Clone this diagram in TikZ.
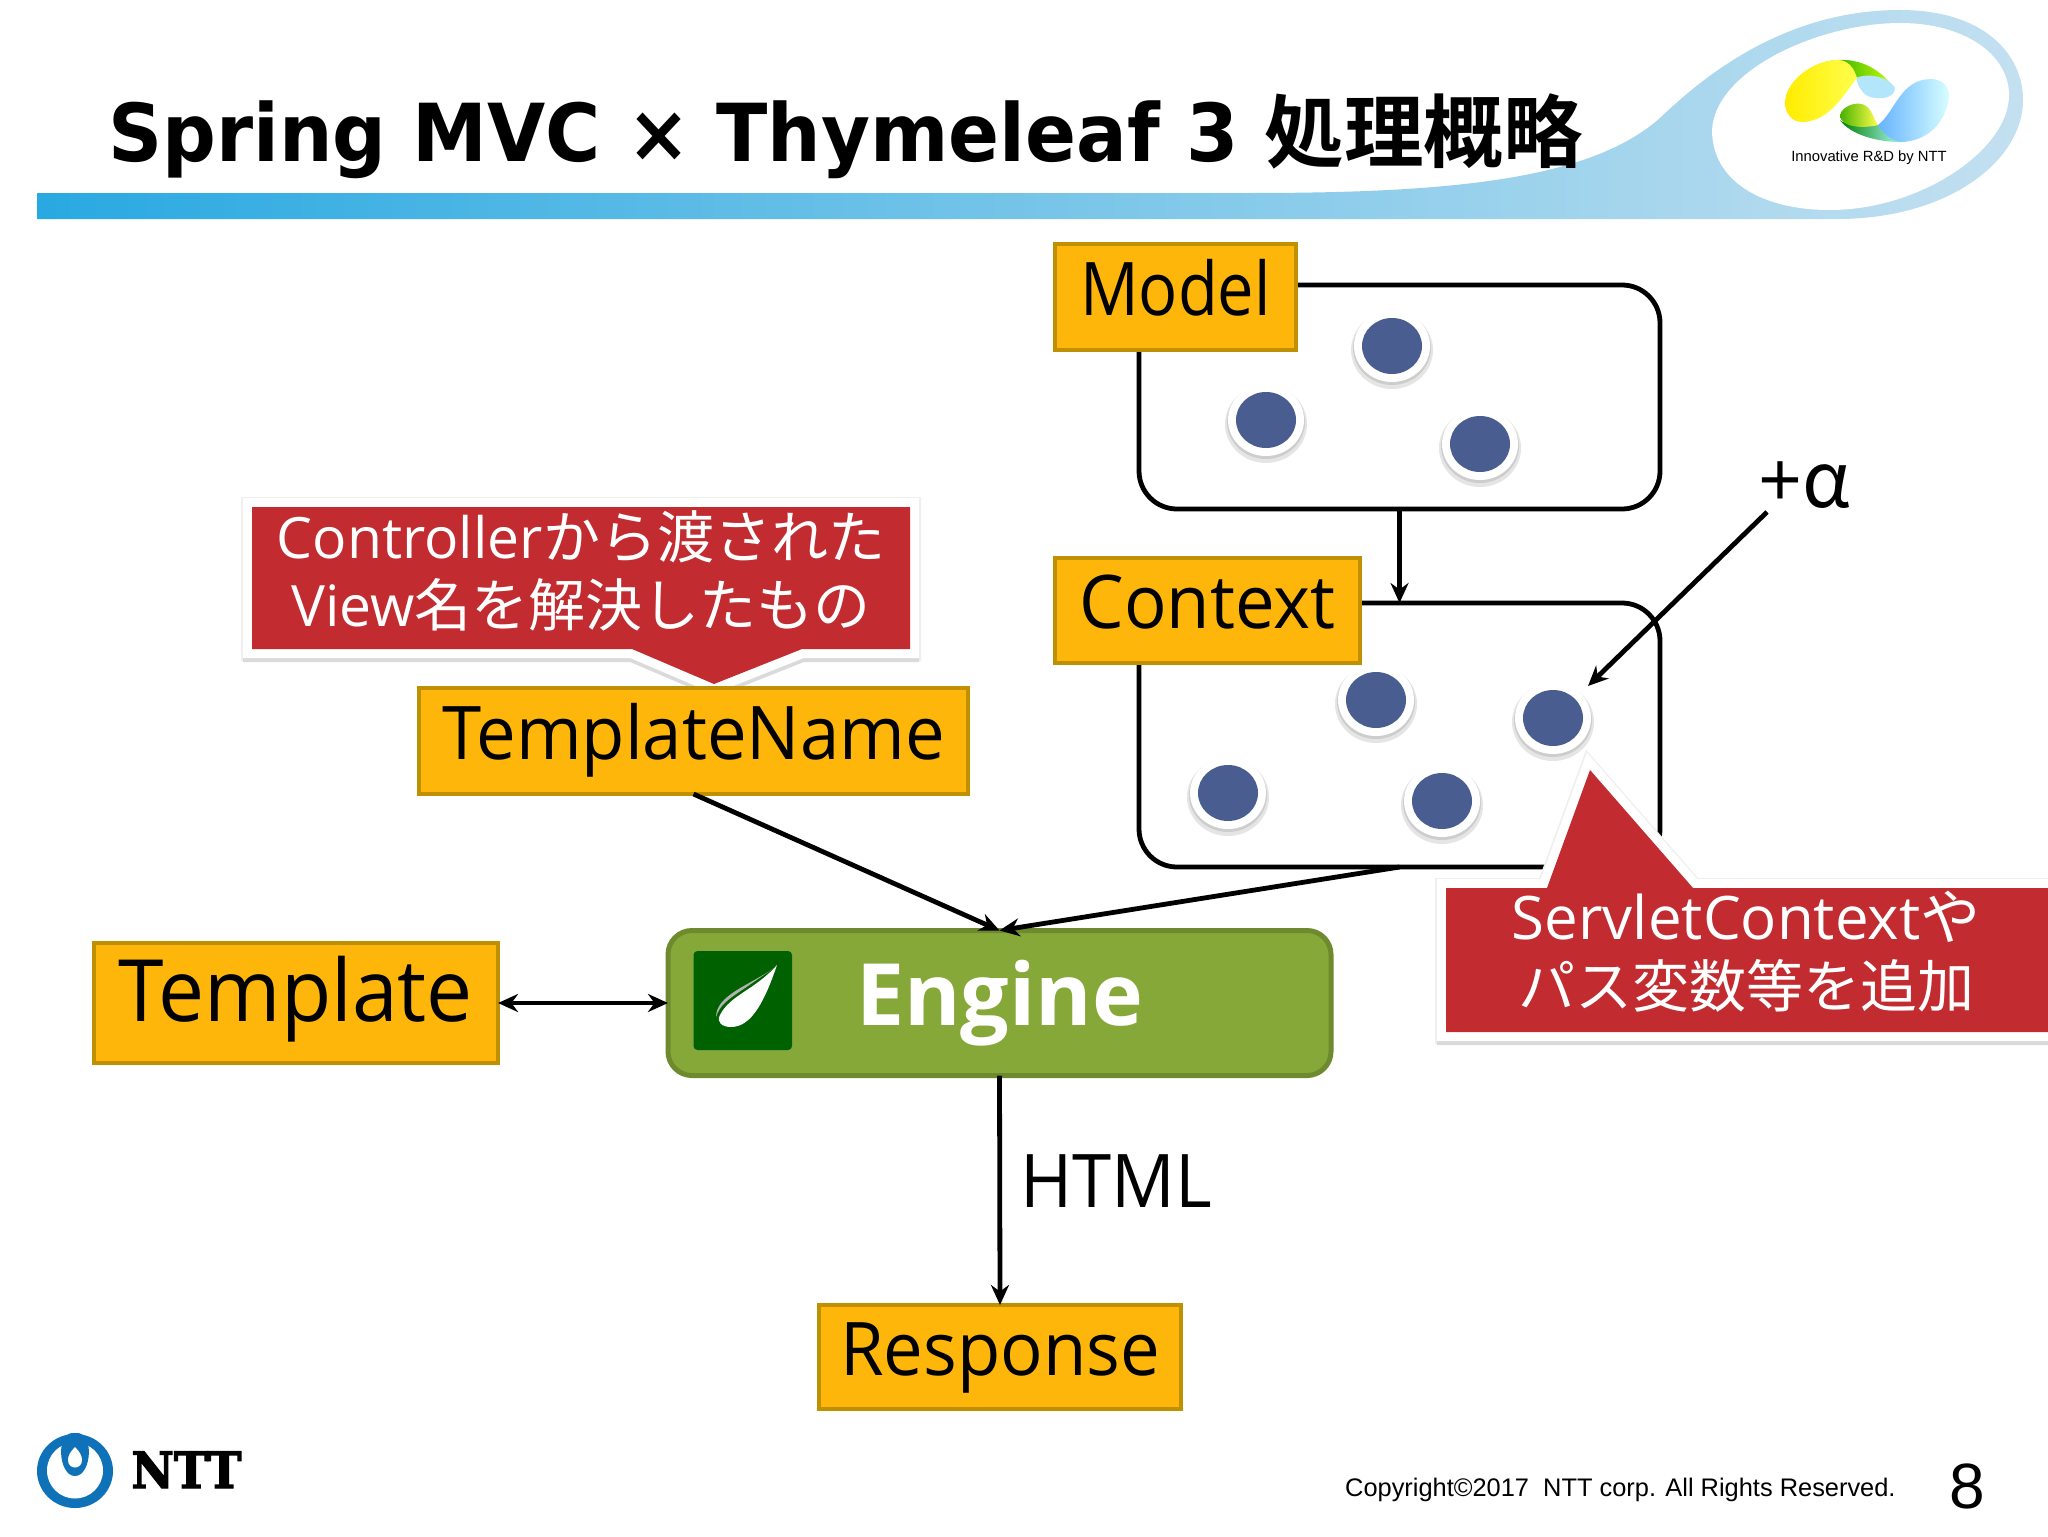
\documentclass[tikz,border=0pt]{standalone}
\usepackage{fontspec}
\usetikzlibrary{arrows.meta}
\setmainfont[FakeStretch=.955]{Open Sans}
\newfontfamily\widefont{Open Sans}
\newfontfamily\jpfont{Noto Sans CJK JP}
\newfontfamily\jpbold{Noto Sans CJK JP Bold}
\newfontfamily\titlefont[FakeStretch=.94]{DejaVu Sans Bold}
\newfontfamily\arialfont{Liberation Sans}
\newfontfamily\slabfont[FakeBold=2.5,FakeStretch=.93]{DejaVu Serif Bold}
\newcommand\jp[1]{{\jpfont #1}}
\definecolor{boxfill}{HTML}{FFB60A}
\definecolor{boxline}{HTML}{BF9000}
\definecolor{redfill}{HTML}{C22B2F}
\definecolor{dotblue}{HTML}{4A5D91}
\definecolor{enginefill}{HTML}{86A838}
\definecolor{engineline}{HTML}{6E8A2E}
\definecolor{bandleft}{HTML}{29A9E1}
\definecolor{bandmid}{HTML}{78BCE6}
\definecolor{bandright}{HTML}{C3E0F0}
\definecolor{nttblue}{HTML}{0F72B8}
\definecolor{softshadow}{HTML}{DADADA}
\definecolor{softhalo}{HTML}{EFEFEF}
\tikzset{
  x=0.5pt,y=-0.5pt,
  orangebox/.style={draw=boxline,fill=boxfill,line width=2pt,rectangle,inner sep=0pt,outer sep=0pt,
    font=\fontsize{37}{40}\selectfont,text height=24pt,text depth=5.7pt},
  framebox/.style={draw=black,line width=2.4pt,rectangle,rounded corners=19pt,inner sep=0pt,outer sep=0pt},
  link/.style={draw=black,line width=2.4pt,-{Stealth[length=10pt,width=9pt]}},
  bothlink/.style={draw=black,line width=2.4pt,{Stealth[length=10pt,width=9pt]}-{Stealth[length=10pt,width=9pt]}},
  redtext/.style={text=white,font=\widefont\fontsize{28.5}{34}\selectfont,align=center,inner sep=0pt},
  plaintext/.style={inner sep=0pt,text=black},
  halolayer/.style={draw=softhalo,fill=softhalo,line width=11pt,line join=miter},
  shadowlayer/.style={draw=softshadow,fill=softshadow,line width=9pt,line join=miter},
  whiteedge/.style={preaction={draw=white,line width=9pt,line join=miter},fill=redfill},
}
\newcommand\dotat[2]{%
  \fill[black,opacity=.10] (#1,#2+4) ellipse [x radius=20.5pt,y radius=19.5pt];
  \fill[black,opacity=.10] (#1,#2+2) ellipse [x radius=19.5pt,y radius=18.5pt];
  \fill[white] (#1,#2) ellipse [x radius=19pt,y radius=18pt];
  \fill[dotblue] (#1,#2) ellipse [x radius=15pt,y radius=14pt];
}
\begin{document}
\begin{tikzpicture}
\useasboundingbox (0,0) rectangle (2048,1536);
\fill[white] (0,0) rectangle (2048,1536);

% header band
\shade[left color=bandleft,middle color=bandmid,right color=bandright]
  (37,193) -- (1250,193) .. controls (1450,193) and (1590,180) .. (1660,118)
  .. controls (1710,70) and (1790,10) .. (1900,10)
  .. controls (1985,10) and (2023,55) .. (2023,100)
  .. controls (2023,160) and (1950,218) .. (1840,219) -- (37,219) -- cycle;
\fill[white] (1712,130) .. controls (1715,70) and (1820,23) .. (1900,23)
  .. controls (1965,23) and (2009,55) .. (2009,95)
  .. controls (2009,150) and (1920,210) .. (1830,210)
  .. controls (1760,210) and (1712,180) .. (1712,130) -- cycle;
\node[plaintext,anchor=base west,font=\titlefont\fontsize{40}{44}\selectfont] (title) at (108,161)
  {Spring MVC × Thymeleaf 3 {\jpbold\fontsize{39.8}{44}\selectfont 処理概略}};

% logo
\shade[left color=green!60!black,right color=yellow!80!green]
  (1815,66) .. controls (1835,56) and (1870,55) .. (1894,88)
  .. controls (1885,80) and (1870,74) .. (1856,78) .. controls (1850,70) and (1835,64) .. (1815,66) -- cycle;
\fill[cyan!30!white] (1856,78) .. controls (1870,72) and (1890,78) .. (1895,88)
  .. controls (1895,98) and (1880,100) .. (1870,97) .. controls (1862,94) and (1858,86) .. (1856,78) -- cycle;
\shade[left color=yellow!85!orange,right color=yellow!70!white]
  (1785,103) .. controls (1785,82) and (1812,60) .. (1838,60)
  .. controls (1848,60) and (1854,68) .. (1857,78)
  .. controls (1845,92) and (1830,122) .. (1802,122)
  .. controls (1792,122) and (1785,113) .. (1785,103) -- cycle;
\shade[left color=green!50!black,right color=cyan!30!white]
  (1840,120) .. controls (1850,135) and (1880,143) .. (1905,142)
  .. controls (1890,138) and (1885,130) .. (1878,125) .. controls (1860,127) and (1845,125) .. (1840,120) -- cycle;
\shade[left color=green!60!yellow!70!black,right color=yellow!70!white]
  (1840,115) .. controls (1842,106) and (1858,100) .. (1866,106)
  .. controls (1872,110) and (1874,120) .. (1878,125) .. controls (1862,129) and (1840,127) .. (1840,115) -- cycle;
\shade[left color=cyan!50!blue!60!white,right color=cyan!15!white]
  (1878,125) .. controls (1895,112) and (1900,80) .. (1930,79)
  .. controls (1945,79) and (1950,90) .. (1949,98)
  .. controls (1945,125) and (1925,142) .. (1900,142)
  .. controls (1890,140) and (1882,132) .. (1878,125) -- cycle;
\node[plaintext,font=\arialfont\fontsize{7.4}{8}\selectfont] (logotext) at (1869,158) {Innovative R\&D by NTT};

% frames
\node[framebox,minimum width=260.5pt,minimum height=112pt] (modelframe) at (1399.5,397) {};
\node[framebox,minimum width=260.5pt,minimum height=132pt] (contextframe) at (1399.5,735) {};

% dots
\dotat{1392}{346}\dotat{1266}{420}\dotat{1480}{444}
\dotat{1376}{700}\dotat{1553}{718}\dotat{1228}{793}\dotat{1442}{801}

% red callout 1
\path[halolayer]
  (252,508) -- (910,508) -- (910,650) -- (802,650) -- (714,685) -- (632,650) -- (252,650) -- cycle;
\path[shadowlayer]
  (252,511) -- (910,511) -- (910,653) -- (802,653) -- (714,688) -- (632,653) -- (252,653) -- cycle;
\path[whiteedge]
  (252,507) -- (910,507) -- (910,649) -- (802,649) -- (714,684) -- (632,649) -- (252,649) -- cycle;
\node[redtext] (calloutone) at (581,571) {Controller\jp{から渡された}\\View\jp{名を解決したもの}};

% orange boxes
\node[orangebox,minimum width=120.5pt,minimum height=53pt] (model) at (1175.5,297) {\scalebox{.92}[1]{Model}};
\node[orangebox,minimum width=152.5pt,minimum height=52.5pt] (context) at (1207.5,610.5) {Context};
\node[orangebox,minimum width=274.5pt,minimum height=53pt] (tname) at (693.5,741) {TemplateName};
\node[orangebox,minimum width=202pt,minimum height=60pt,font=\fontsize{43}{44}\selectfont] (template) at (296,1003) {Template};
\node[orangebox,minimum width=181pt,minimum height=52pt] (response) at (1000,1357) {Response};

% engine
\node[draw=engineline,fill=enginefill,line width=2.5pt,rectangle,rounded corners=12pt,inner sep=0pt,outer sep=0pt,
  minimum width=331.5pt,minimum height=72.5pt,text=white,font=\widefont\bfseries\fontsize{43}{44}\selectfont,
  text height=24pt,text depth=2pt] (engine) at (999.5,1003) {Engine};
\fill[rounded corners=2pt,green!38!black] (693.5,951) rectangle (792,1050);
\fill[black!30!white] (774,968) .. controls (750,985) and (716,995) .. (716,1017)
  .. controls (720,1005) and (727,1000) .. (745,988) -- cycle;
\fill[white] (777,965) .. controls (765,1000) and (752,1027) .. (731,1027)
  .. controls (722,1027) and (716,1022) .. (720,1015)
  .. controls (730,995) and (755,990) .. (777,965) -- cycle;

% connectors
\draw[link] (modelframe.south) -- (contextframe.north);
\draw[link] (tname.south) -- (engine.north);
\draw[link] (contextframe.south) -- (engine.north);
\draw[bothlink] (template.east) -- (engine.west);
\draw[link] (engine.south) -- (response.north);
\node[plaintext,font=\widefont\fontsize{38.5}{40}\selectfont,anchor=base] (plusa) at (1805,507) {+\jp{α}};
\coordinate (plusfrom) at (1767,512);
\coordinate (plusto) at (1588,686);
\draw[link] (plusfrom) -- (plusto);
\node[plaintext,font=\fontsize{37}{40}\selectfont,anchor=base west] (html) at (1020,1207) {HTML};

% red callout 2
\path[halolayer]
  (1446,889) -- (1547,889) -- (1590,771) -- (1693,889) -- (2060,889) -- (2060,1033) -- (1446,1033) -- cycle;
\path[shadowlayer]
  (1446,892) -- (1547,892) -- (1590,774) -- (1693,892) -- (2060,892) -- (2060,1036) -- (1446,1036) -- cycle;
\path[whiteedge]
  (1446,888) -- (1547,888) -- (1590,770) -- (1693,888) -- (2060,888) -- (2060,1032) -- (1446,1032) -- cycle;
\node[redtext] (callouttwo) at (1746,952) {{\fontsize{30}{34}\selectfont ServletContext\jp{や}}\\\jp{パス変数等を追加}};

% NTT logo
\fill[nttblue] (75,1471) ellipse [x radius=19pt,y radius=18.5pt];
\fill[white] (75,1470.5) ellipse [x radius=14pt,y radius=14pt];
\fill[nttblue] (75,1433) .. controls (95,1430) and (92,1476) .. (75,1476)
  .. controls (58,1476) and (55,1430) .. (75,1433) -- cycle;
\fill[white] (75,1447) .. controls (80,1452) and (82,1456) .. (82,1460)
  .. controls (82,1470) and (68,1470) .. (68,1460) .. controls (68,1456) and (70,1452) .. (75,1447) -- cycle;
\node[plaintext,anchor=base west,font=\slabfont\fontsize{25}{30}\selectfont] (ntt) at (131,1488) {NTT};

% footer
\node[plaintext,anchor=base east,font=\arialfont\fontsize{12.7}{16}\selectfont] (copyright) at (1896,1496) {Copyright©2017\ \ NTT corp. All Rights Reserved.};
\node[plaintext,anchor=base,font=\arialfont\fontsize{32}{34}\selectfont] (pagenum) at (1967,1508) {8};
\end{tikzpicture}
\end{document}
